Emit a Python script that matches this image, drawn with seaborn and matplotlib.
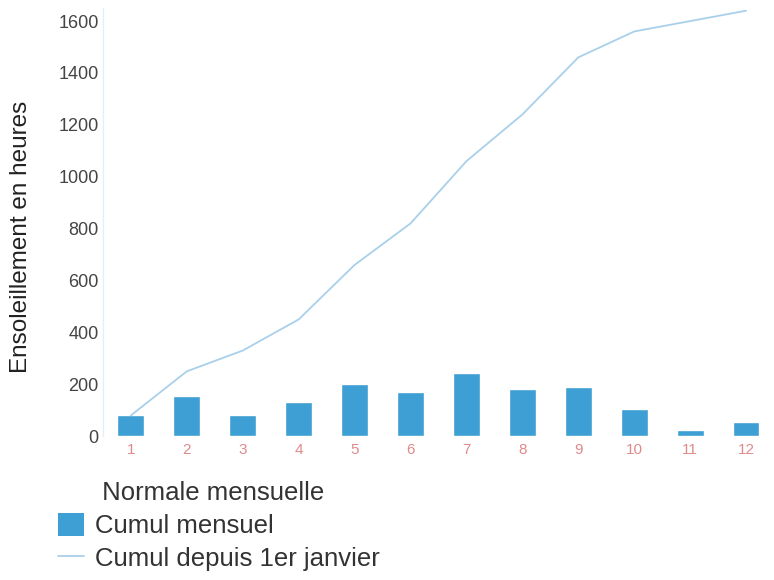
import matplotlib
matplotlib.use("Agg")
import matplotlib.pyplot as plt
import seaborn as sns
import pandas as pd
from matplotlib.patches import Patch
from matplotlib.lines import Line2D

months = ["1", "2", "3", "4", "5", "6", "7", "8", "9", "10", "11", "12"]
cumul_mensuel = [80, 154, 81, 131, 201, 170, 243, 181, 189, 104, 23, 54]
cumul_annuel = [80, 250, 330, 450, 660, 820, 1060, 1240, 1460, 1560, 1600, 1640]
yticks = [0, 200, 400, 600, 800, 1000, 1200, 1400, 1600]

sns.set_theme(style="white")
plt.rcParams["font.family"] = ["Liberation Sans", "DejaVu Sans"]

df = pd.DataFrame({"mois": months, "mensuel": cumul_mensuel, "cumul": cumul_annuel})

fig = plt.figure(figsize=(7.74, 5.80), dpi=100)
ax = fig.add_axes([0.133, 0.248, 0.867, 0.738])

sns.barplot(data=df, x="mois", y="mensuel", color="#3d9fd3", saturation=1,
            width=0.48, ax=ax, zorder=2)
sns.lineplot(data=df, x="mois", y="cumul", color="#a9d0ea", linewidth=1.3,
             sort=False, ax=ax, zorder=3)

ax.set_xlim(-0.5, 11.5)
ax.set_ylim(0, 1650)
ax.set_yticks(yticks)
ax.set_yticklabels([str(v) for v in yticks], color="#444444", fontsize=13)
ax.tick_params(axis="x", colors="#e08a8a", labelsize=11, length=0, pad=5)
ax.tick_params(axis="y", length=0, pad=3)
ax.set_xlabel("")
ax.set_ylabel("Ensoleillement en heures", fontsize=17.5, color="#222222")
ax.yaxis.set_label_coords(-0.106, 0.465)

for side in ["top", "right", "bottom"]:
    ax.spines[side].set_visible(False)
ax.spines["left"].set_color("#e3eef6")
ax.spines["left"].set_linewidth(1.0)

handles = [
    Line2D([], [], color="none"),
    Patch(facecolor="#3d9fd3", edgecolor="none"),
    Line2D([], [], color="#a9d0ea", linewidth=1.3),
]
labels = [" Normale mensuelle", "Cumul mensuel", "Cumul depuis 1er janvier"]
fig.legend(handles, labels, loc="upper left", bbox_to_anchor=(0.045, 0.212),
           frameon=False, fontsize=18.5, handlelength=1.0, handleheight=1.0,
           handletextpad=0.45, labelspacing=0.3, labelcolor="#333333")

fig.savefig("out.png", dpi=100)
